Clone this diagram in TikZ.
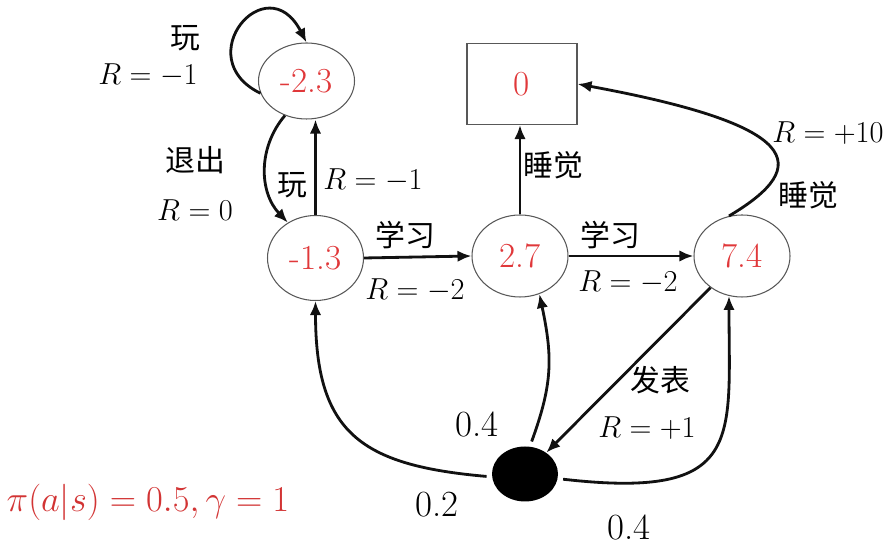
\documentclass[tikz,border=0pt]{standalone}
\usepackage{amsmath}
\usepackage{fontspec}
\usetikzlibrary{arrows.meta,positioning,shapes.geometric}
\newfontfamily\cjk{Noto Sans CJK SC}
\definecolor{valred}{HTML}{E0383A}
\definecolor{polred}{HTML}{D23434}
\definecolor{ink}{HTML}{111111}

\begin{document}
\begin{tikzpicture}[
  x=1cm,y=1cm,
  font=\fontsize{16}{18}\selectfont,
  state/.style={ellipse,draw=ink!70,line width=.6pt,minimum width=1.92cm,
                minimum height=1.64cm,inner sep=0pt,text=valred,
                font=\rmfamily\fontsize{20}{22}\selectfont},
  term/.style={rectangle,draw=ink!70,line width=.6pt,minimum width=2.2cm,
               minimum height=1.62cm,inner sep=0pt,text=valred,
               font=\rmfamily\fontsize{20}{22}\selectfont},
  chance/.style={ellipse,fill=black,minimum width=1.32cm,minimum height=1.1cm,inner sep=0pt},
  arrow/.style={-{Latex[length=2.8mm,width=2.3mm]},line width=1.6pt,draw=ink},
  act/.style={font=\cjk\fontsize{17}{20}\selectfont},
  rwd/.style={font=\fontsize{16}{18}\selectfont},
  prob/.style={font=\rmfamily\fontsize{21}{23}\selectfont}
]
\useasboundingbox (0,0) rectangle (17.72,10.92);

% States
\node[state,minimum height=1.52cm] (n23) at (6.13,9.30) {-2.3};
\node[state,minimum height=1.70cm] (n13) at (6.31,5.76) {-1.3};
\node[term] (end) at (10.44,9.24) {0};
\node[state] (n27) at (10.40,5.80) {2.7};
\node[state] (n74) at (14.84,5.80) {7.4};
\node[chance] (pub) at (10.50,1.44) {};

% Actions
\draw[arrow] (n23.195) .. controls +(-1.45,.7) and +(-.8,1.55) .. (n23.north);
\draw[arrow] (n23.238) to[bend right=42] (n13.128);
\draw[arrow] (n13.north) -- (n13.north |- n23.south);
\draw[arrow] (n13.east) -- (n27.west);
\draw[arrow] (n27.north) -- (n27.north |- end.south);
\draw[arrow] (n27.east) -- (n74.west);
\draw[arrow] (n74.108) .. controls (16.30,7.62) and (16.00,8.42) .. (end.east);
\draw[arrow] (n74) -- (pub);
\draw[arrow,shorten <=3pt] (pub.185) to[out=175,in=-90,looseness=1.35] (n13.south);
\draw[arrow,shorten <=3pt] (pub.80) to[out=70,in=-78,looseness=1.1] (n27.297);
\draw[arrow,shorten <=3pt] (pub.-8) .. controls (14.90,.92) and (14.58,2.12) .. (n74.252);

% Labels
\node[act] (playtop) at (3.70,10.16) {玩};
\node[rwd] (rplaytop) at (2.96,9.42) {$R=-1$};
\node[act] (quit) at (3.90,7.72) {退出};
\node[rwd] (rquit) at (3.90,6.72) {$R=0$};
\node[act] (play) at (5.84,7.22) {玩};
\node[rwd] (rplay) at (7.46,7.32) {$R=-1$};
\node[act] (studya) at (8.10,6.22) {学习};
\node[rwd] (rstudya) at (8.30,5.12) {$R=-2$};
\node[act] (sleepa) at (11.06,7.62) {睡觉};
\node[act] (studyb) at (12.20,6.22) {学习};
\node[rwd] (rstudyb) at (12.56,5.28) {$R=-2$};
\node[rwd] (rsleepb) at (16.56,8.26) {$R=+10$};
\node[act] (sleepb) at (16.16,7.02) {睡觉};
\node[act] (paper) at (13.20,3.32) {发表};
\node[rwd] (rpaper) at (12.94,2.36) {$R=+1$};
\node[prob] (pmid) at (9.54,2.44) {0.4};
\node[prob] (pleft) at (8.74,0.82) {0.2};
\node[prob] (pright) at (12.58,0.38) {0.4};
\node[text=polred,font=\fontsize{21}{23}\selectfont] (policy) at (2.96,0.88)
  {$\pi(a|s)=0.5,\gamma=1$};
\end{tikzpicture}
\end{document}
